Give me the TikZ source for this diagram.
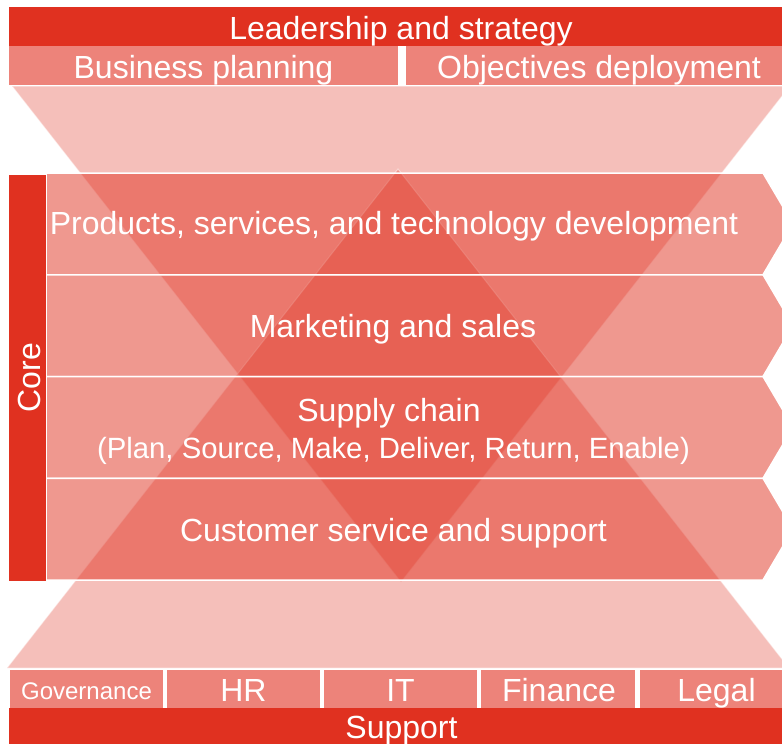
\documentclass[tikz,border=0pt]{standalone}
\usepackage{fontspec}
\setmainfont{Liberation Sans}
\definecolor{brandred}{RGB}{224,49,32}
\definecolor{salmon}{RGB}{237,131,122}
\begin{document}
\begin{tikzpicture}[x=1pt,y=-1pt,
  bar/.style={fill=brandred, draw=none},
  subbar/.style={fill=salmon, draw=none},
  funnel/.style={fill=brandred, fill opacity=0.31, draw=white, draw opacity=0.5, line width=1pt},
  chevron/.style={fill=brandred, fill opacity=0.5, draw=white, line width=1.5pt, line join=miter},
  lbl/.style={text=white, font=\fontsize{32}{38}\selectfont, inner sep=0pt, anchor=base},
  sublbl/.style={lbl, font=\fontsize{29.3}{35}\selectfont},
  smalllbl/.style={lbl, font=\fontsize{24}{29}\selectfont}
]
\useasboundingbox (0,0) rectangle (782,744);
\clip (0,0) rectangle (782,744);

% leadership bars
\fill[bar] (9,7) rectangle (782,46);
\fill[subbar] (9,46) rectangle (398,85);
\fill[subbar] (406,46) rectangle (782,85);

% two overlapping funnels
\draw[funnel] (12,86) -- (790,86) -- (401,582) -- cycle;
\draw[funnel] (7,668) -- (789,668) -- (398,169) -- cycle;

% core process chevrons
\foreach \i in {0,1,2,3} {
  \pgfmathsetmacro{\top}{173+101.75*\i}
  \pgfmathsetmacro{\bot}{\top+101.75}
  \pgfmathsetmacro{\mid}{\top+50.875}
  \draw[chevron] (46,\top) -- (763,\top) -- (793,\mid) -- (763,\bot) -- (46,\bot) -- cycle;
}

% core side bar
\fill[bar] (9,175) rectangle (46,581);

% support bars
\fill[subbar] (10,670) rectangle (163,708);
\fill[subbar] (167,670) rectangle (320,708);
\fill[subbar] (324,670) rectangle (477,708);
\fill[subbar] (481,670) rectangle (635,708);
\fill[subbar] (640,670) rectangle (782,708);
\fill[bar] (9,708) rectangle (782,744);

% labels
\node[lbl] (lead) at (401,39) {Leadership and strategy};
\node[lbl] (plan) at (203.5,78) {Business planning};
\node[lbl] (obj) at (599,78) {Objectives deployment};

\node[lbl] (prod) at (394,234) {Products, services, and technology development};
\node[lbl] (mkt) at (393,337) {Marketing and sales};
\node[lbl] (sc) at (389,421) {Supply chain};
\node[sublbl] (scor) at (393.5,458) {(Plan, Source, Make, Deliver, Return, Enable)};
\node[lbl] (cust) at (393.5,541.5) {Customer service and support};

\node[lbl, rotate=90] (core) at (40,377.5) {Core};

\node[smalllbl] (gov) at (86.5,699) {Governance};
\node[lbl] (hr) at (243.5,701.5) {HR};
\node[lbl] (it) at (400.5,701.5) {IT};
\node[lbl] (fin) at (559,701.5) {Finance};
\node[lbl] (legal) at (716.5,701.5) {Legal};
\node[lbl] (sup) at (401.5,738) {Support};
\end{tikzpicture}
\end{document}
